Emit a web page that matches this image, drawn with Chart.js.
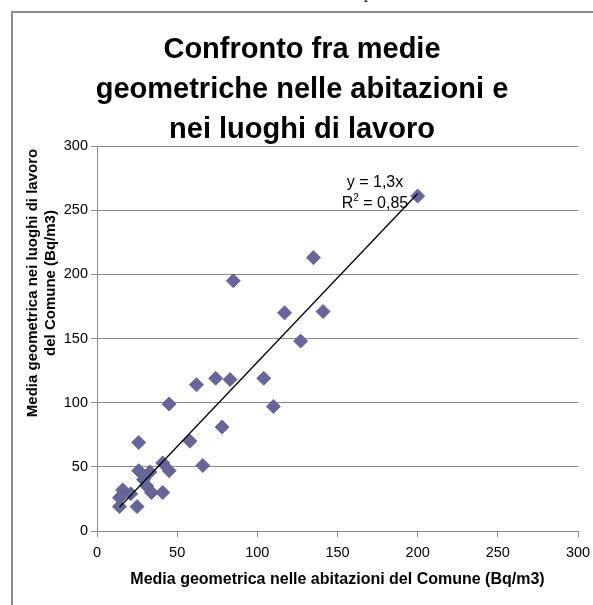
<!DOCTYPE html>
<html><head><meta charset="utf-8">
<script src="https://cdn.jsdelivr.net/npm/chart.js@4/dist/chart.umd.min.js"></script>
<style>
html,body{margin:0;padding:0;background:#fff;overflow:hidden;width:593px;height:605px}
#wrap{position:relative;width:593px;height:605px;overflow:hidden}
#frame{position:absolute;left:11px;top:11px;width:800px;height:800px;border:2px solid #8c8c8c;box-sizing:border-box}
#cap{position:absolute;left:365px;top:-15px;font:italic 16px "Liberation Serif",serif;line-height:16px;color:#000}
canvas{position:absolute;left:0;top:0}
</style></head><body>
<div id="wrap"><div id="frame"></div><div id="cap">p</div><canvas id="c" width="593" height="605"></canvas></div>
<script>
// ---- data ----
const homeMeans = [14, 14, 16, 21, 25, 26, 26, 29, 31, 33, 34, 41, 41, 45, 45, 58, 62, 66, 74, 78, 83, 85, 104, 110, 117, 127, 135, 141, 200];
const workMeans = [19, 26, 32, 29, 19, 47, 69, 40, 35, 46, 30, 30, 53, 47, 99, 70, 114, 51, 119, 81, 118, 195, 119, 97, 170, 148, 213, 171, 261];
const trendX = [14, 200];
const trendY = [18.5, 263];
const xTickValues = [0, 50, 100, 150, 200, 250, 300];
const yTickValues = [0, 50, 100, 150, 200, 250, 300];
const titleLines = ['Confronto fra medie', 'geometriche nelle abitazioni e', 'nei luoghi di lavoro'];
const xTitle = 'Media geometrica nelle abitazioni del Comune (Bq/m3)';
const yTitleLines = ['Media geometrica nei luoghi di lavoro', 'del Comune (Bq/m3)'];
const eqText = 'y = 1,3x';
const r2Label = 'R', r2Sup = '2', r2Value = ' = 0,85';

const FONT = '"Liberation Sans", Arial, sans-serif';
const GRID = '#888888';

const annotations = {
  id: 'annotations',
  afterDraw(chart) {
    const ctx = chart.ctx;
    ctx.save();
    ctx.fillStyle = '#000';
    // y-axis title (two centered lines, rotated)
    ctx.font = 'bold 15px ' + FONT;
    ctx.translate(33, 283);
    ctx.rotate(-Math.PI / 2);
    ctx.textAlign = 'center';
    ctx.textBaseline = 'middle';
    ctx.fillText(yTitleLines[0], 0, 0);
    ctx.fillText(yTitleLines[1], 0, 18);
    ctx.restore();

    // trendline equation
    ctx.save();
    ctx.fillStyle = '#000';
    ctx.textBaseline = 'alphabetic';
    ctx.font = '16px ' + FONT;
    const cx = 375;
    ctx.textAlign = 'center';
    ctx.fillText(eqText, cx, 187);
    ctx.textAlign = 'left';
    const wR = ctx.measureText(r2Label).width;
    const wV = ctx.measureText(r2Value).width;
    ctx.font = '10px ' + FONT;
    const wS = ctx.measureText(r2Sup).width;
    let x0 = cx - (wR + wS + wV) / 2;
    ctx.font = '16px ' + FONT;
    ctx.fillText(r2Label, x0, 208);
    ctx.font = '10px ' + FONT;
    ctx.fillText(r2Sup, x0 + wR, 201);
    ctx.font = '16px ' + FONT;
    ctx.fillText(r2Value, x0 + wR + wS, 208);
    ctx.restore();
  }
};

new Chart(document.getElementById('c'), {
  data: {
    datasets: [
      {
        type: 'line',
        data: trendX.map((x, i) => ({x, y: trendY[i]})),
        borderColor: '#000',
        borderWidth: 1.3,
        pointRadius: 0,
        fill: false,
        order: 0
      },
      {
        type: 'scatter',
        data: homeMeans.map((x, i) => ({x, y: workMeans[i]})),
        pointStyle: 'rectRot',
        pointRadius: 7,
        backgroundColor: '#666699',
        borderColor: '#666699',
        borderWidth: 1,
        order: 1
      }
    ]
  },
  options: {
    responsive: false,
    animation: false,
    devicePixelRatio: 1,
    layout: {padding: {left: 26, right: 15, top: 0, bottom: 0}},
    plugins: {
      legend: {display: false},
      tooltip: {enabled: false},
      title: {
        display: true,
        text: titleLines,
        color: '#000',
        font: {family: FONT, size: 29, weight: 'bold', lineHeight: 40 / 29},
        padding: {top: 30, bottom: -4}
      }
    },
    scales: {
      x: {
        type: 'linear',
        min: 0, max: 300,
        afterBuildTicks: s => { s.ticks = xTickValues.map(v => ({value: v})); },
        afterFit: s => { s.height = 74; s.paddingRight = 0; s.paddingLeft = 0; },
        grid: {drawOnChartArea: false, drawTicks: true, tickLength: 6, color: GRID},
        border: {color: GRID, width: 1},
        ticks: {color: '#000', padding: 7, maxRotation: 0, font: {family: FONT, size: 14.5}},
        title: {display: true, text: xTitle, color: '#000', font: {family: FONT, size: 16, weight: 'bold'}, padding: {top: 0, bottom: 16}}
      },
      y: {
        type: 'linear',
        min: 0, max: 300,
        afterBuildTicks: s => { s.ticks = yTickValues.map(v => ({value: v})); },
        afterFit: s => { s.width = 71; },
        grid: {color: GRID, tickLength: 6, drawTicks: true},
        border: {color: GRID, width: 1},
        ticks: {color: '#000', padding: 3, font: {family: FONT, size: 14.5}}
      }
    }
  },
  plugins: [annotations]
});
</script>
</body></html>
